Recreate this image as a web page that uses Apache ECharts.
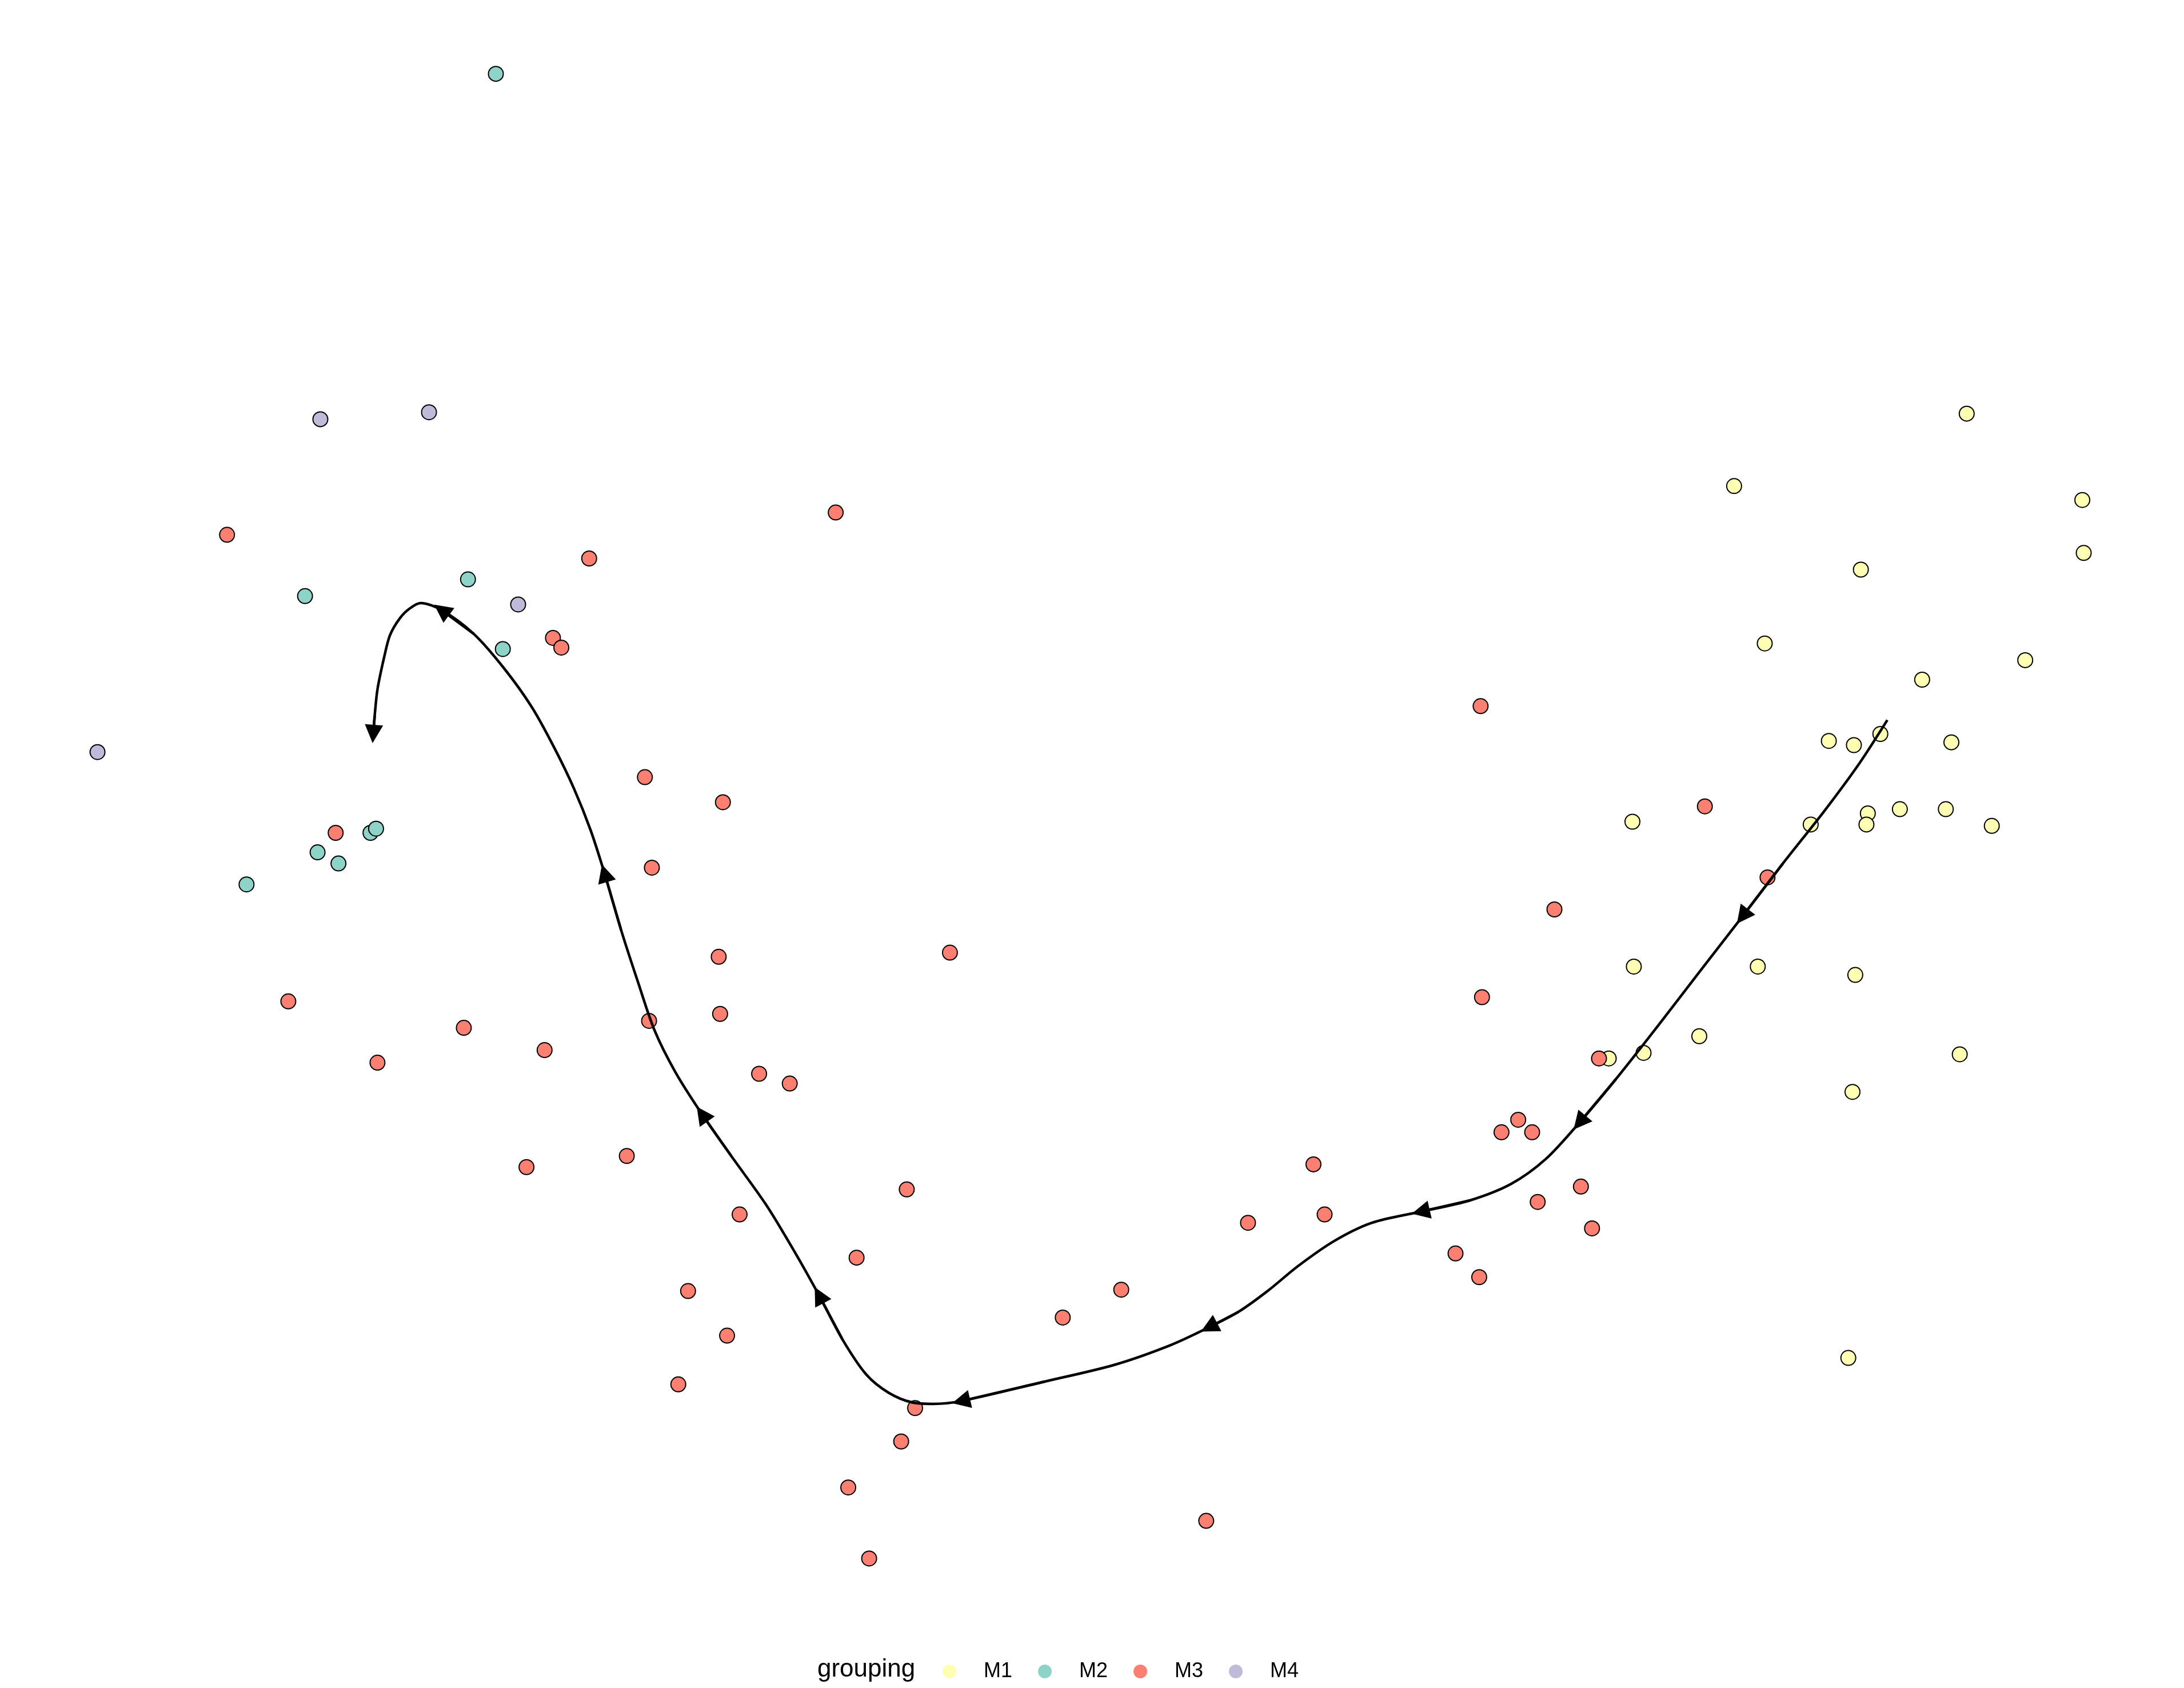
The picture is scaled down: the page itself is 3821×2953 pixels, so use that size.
<!DOCTYPE html>
<html>
<head>
<meta charset="utf-8">
<script src="https://cdn.jsdelivr.net/npm/echarts@6/dist/echarts.min.js"></script>
<style>html,body{margin:0;padding:0;background:#fff;}#c{width:3821px;height:2953px;}</style>
</head>
<body>
<div id="c"></div>
<script>
// Values (plot units: x 0..1568 left->right, y 0..1212 top->bottom)
const groups = ['M1', 'M2', 'M3', 'M4'];
const groupColors = ['#FFFFB3', '#8DD3C7', '#FB8072', '#BEBADA'];

const pointsM1 = [
  [1412,297],[1245,349],[1495,359],[1336,409],[1496,397],[1267,462],[1380,488],[1454,474],
  [1313,532],[1331,535],[1350,527],[1401,533],[1172,590],[1300,592],[1341,584],[1340,592],
  [1364,581],[1397,581],[1430,593],[1173,694],[1262,694],[1332,700],[1220,744],[1180,756],
  [1155,760],[1330,784],[1407,757],[1327,975]
];
const pointsM2 = [
  [356,53],[336,416],[219,428],[361,466],[228,612],[243,620],[266,598],[270,595],[177,635]
];
const pointsM3 = [
  [163,384],[600,368],[423,401],[397,458],[403,465],[463,558],[519,576],[241,598],[468,623],
  [516,687],[682,684],[207,719],[517,728],[466,733],[333,738],[391,754],[271,763],[545,771],
  [567,778],[378,838],[450,830],[651,854],[531,872],[615,903],[494,927],[522,959],[487,994],
  [657,1011],[647,1035],[609,1068],[624,1119],[763,946],[805,926],[866,1092],[896,878],
  [943,836],[951,872],[1063,507],[1224,579],[1269,630],[1116,653],[1064,716],[1148,760],
  [1090,804],[1078,813],[1100,813],[1104,863],[1135,852],[1143,882],[1045,900],[1062,917]
];
const pointsM4 = [
  [230,301],[308,296],[372,434],[70,540]
];

// trajectory curve, in drawing order
const curvePath = [
  [1355,517],[1335,548],[1310,582],[1280,620],[1251,658],[1220,698],[1190,737],[1160,775],
  [1134,806],[1110,832],[1085,850],[1055,862],[1020,870],[985,878],[958,891],[932,909],
  [910,927],[889,942],[868,953],[840,966],[800,980],[750,992],[690,1006],[670,1008],[655,1007],
  [638,1000],[622,987],[605,962],[588,930],[570,898],[550,865],[525,830],[504,800],
  [485,770],[470,740],[458,705],[446,668],[434,627],[424,596],[412,566],[398,537],
  [382,508],[362,480],[340,455],[317,438],[302,433],[294,437],[287,444],[280,456],
  [276,471],[271,495],[269,514],[268,527]
];
// indices in curvePath where an arrowhead sits (direction taken from the previous point)
const arrowIdx = [4, 8, 12, 18, 22, 28, 32, 37, 44, 52];

const pointSeries = [pointsM1, pointsM2, pointsM3, pointsM4].map((pts, i) => ({
  name: groups[i],
  type: 'scatter',
  data: pts,
  symbol: 'circle',
  symbolSize: 26,
  itemStyle: { color: groupColors[i], borderColor: '#000', borderWidth: 2, opacity: 1 },
  emphasis: { disabled: true },
  z: 2 + i * 0.01
}));

const arrowData = arrowIdx.map(k => ({ coords: [curvePath[k - 1], curvePath[k]] }));

const chart = echarts.init(document.getElementById('c'), null, { renderer: 'canvas' });
chart.setOption({
  animation: false,
  backgroundColor: '#ffffff',
  grid: { left: 0, right: 0, top: 0, bottom: 0, containLabel: false },
  xAxis: { type: 'value', min: 0, max: 1568, show: false, splitLine: { show: false } },
  yAxis: { type: 'value', min: 0, max: 1212, inverse: true, show: false, splitLine: { show: false } },
  title: {
    text: 'grouping', left: 1430, top: 2899, padding: 0,
    textStyle: { fontSize: 44, fontWeight: 'normal', color: '#000', fontFamily: 'Liberation Sans' }
  },
  legend: {
    data: groups,
    orient: 'horizontal',
    left: 1649, top: 2906, padding: 0,
    itemWidth: 24, itemHeight: 24, itemGap: 45,
    icon: 'circle',
    itemStyle: { borderWidth: 0 },
    selectedMode: false,
    textStyle: { fontSize: 36, color: '#000', fontFamily: 'Liberation Sans', padding: [0, 0, 0, 43] }
  },
  series: [
    ...pointSeries,
    {
      type: 'line',
      data: curvePath,
      smooth: 0.3,
      showSymbol: false,
      symbol: 'none',
      lineStyle: { color: '#000', width: 4.5 },
      silent: true,
      z: 5
    },
    {
      type: 'lines',
      coordinateSystem: 'cartesian2d',
      data: arrowData,
      symbol: ['none', 'triangle'],
      symbolSize: [33, 32],
      lineStyle: { color: '#000', width: 4.5, opacity: 1 },
      itemStyle: { color: '#000' },
      silent: true,
      z: 6
    }
  ]
});
</script>
</body>
</html>
